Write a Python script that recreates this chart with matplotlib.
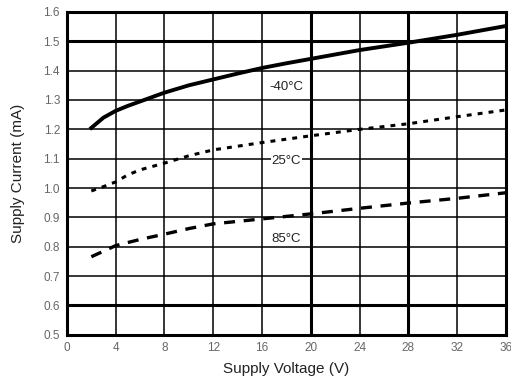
import matplotlib.pyplot as plt

# Data
v_m40 = [2, 3, 4, 5, 6, 8, 10, 12, 14, 16, 18, 20, 24, 28, 32, 36]
cur_m40 = [1.205, 1.24, 1.263, 1.28, 1.295, 1.325, 1.35, 1.37, 1.39, 1.409,
           1.425, 1.44, 1.47, 1.495, 1.522, 1.552]
v_25 = [2, 3, 4, 5, 6, 8, 10, 12, 16, 20, 24, 28, 32, 36]
cur_25 = [0.99, 1.005, 1.021, 1.045, 1.062, 1.085, 1.11, 1.13, 1.155, 1.178,
          1.2, 1.219, 1.243, 1.266]
v_85 = [2, 3, 4, 6, 8, 10, 12, 16, 20, 24, 28, 32, 36]
cur_85 = [0.766, 0.785, 0.804, 0.825, 0.843, 0.862, 0.878, 0.895, 0.912,
          0.931, 0.949, 0.965, 0.984]
xticks = [0, 4, 8, 12, 16, 20, 24, 28, 32, 36]
yticks = [0.5, 0.6, 0.7, 0.8, 0.9, 1.0, 1.1, 1.2, 1.3, 1.4, 1.5, 1.6]

plt.rcParams['font.family'] = ['Liberation Sans', 'DejaVu Sans']

fig = plt.figure(figsize=(5.11, 3.84), dpi=100)
ax = fig.add_axes([0.131, 0.128, 0.859, 0.841])

# Grid (thin) plus a few thick lines
for x in xticks[1:-1]:
    lw = 2.2 if x in (20, 28) else 1.1
    ax.axvline(x, color='black', lw=lw, zorder=1)
for y in yticks[1:-1]:
    lw = 2.2 if y in (0.6, 1.5) else 1.1
    ax.axhline(y, color='black', lw=lw, zorder=1)

ax.plot(v_m40, cur_m40, color='black', lw=2.8, zorder=3)
ax.plot(v_25, cur_25, color='black', lw=2.2, linestyle=(0, (1.6, 2.0)), zorder=3)
ax.plot(v_85, cur_85, color='black', lw=2.4, linestyle=(0, (3.3, 2.6)), zorder=3)

box = dict(facecolor='white', edgecolor='none', pad=0.5)
ax.text(18, 1.345, '-40°C', ha='center', va='center', fontsize=9.5, color='#222222', bbox=box, zorder=4)
ax.text(18, 1.093, '25°C', ha='center', va='center', fontsize=9.5, color='#222222', bbox=box, zorder=4)
ax.text(18, 0.827, '85°C', ha='center', va='center', fontsize=9.5, color='#222222', bbox=box, zorder=4)

ax.set_xlim(0, 36)
ax.set_ylim(0.5, 1.6)
ax.set_xticks(xticks)
ax.set_yticks(yticks)
ax.set_yticklabels([f'{v:.1f}' for v in yticks])
ax.tick_params(length=0, labelsize=8.5, labelcolor='#666666', pad=5)

for s in ax.spines.values():
    s.set_linewidth(2.2)

ax.set_xlabel('Supply Voltage (V)', fontsize=11, labelpad=6, color='#222222')
ax.set_ylabel('Supply Current (mA)', fontsize=11, labelpad=13, color='#222222')

fig.savefig('out.png', dpi=100)
